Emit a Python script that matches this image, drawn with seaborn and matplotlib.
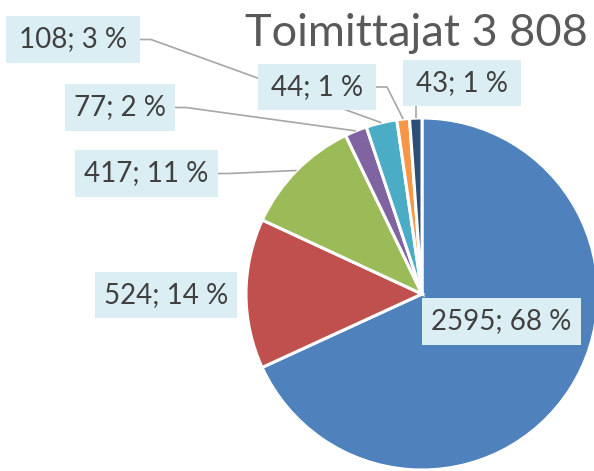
import matplotlib
matplotlib.use("Agg")
import matplotlib.pyplot as plt
import matplotlib.patches as mpatches
import numpy as np
import seaborn as sns

# --- Data ---
TITLE = "Toimittajat 3 808"
values = [2595, 524, 417, 77, 108, 44, 43]
percent_labels = ["68 %", "14 %", "11 %", "2 %", "3 %", "1 %", "1 %"]
colors = ["#4F81BD", "#C0504D", "#9BBB59", "#8064A2", "#4BACC6", "#F79646", "#2C4D75"]

# --- Layout (pixels, y measured from the top) ---
W, H = 594, 471
CENTER = (422, 294)
RADIUS = 176
# label boxes: x0, y0, x1, y1
boxes = [
    (422, 298, 581, 345),
    (95, 272, 237, 318),
    (75, 150, 218, 197),
    (65, 84, 175, 131),
    (6, 16, 140, 63),
    (258, 64, 376, 110),
    (403, 60, 521, 106),
]
# leader start side per slice: None, 'right' or 'bottom'
leader = [None, None, "right", "right", "right", "right", "bottom"]

BOX_COLOR = "#DAEEF3"
TEXT_COLOR = "#404040"
LINE_COLOR = "#A6A6A6"
FONT = ["Lato", "DejaVu Sans"]


def Y(y):
    return H - y


sns.set_theme(style="white")
plt.rcParams["font.family"] = FONT

fig = plt.figure(figsize=(W / 100, H / 100), dpi=100)
ax = fig.add_axes([0, 0, 1, 1])

wedges, _ = ax.pie(values, colors=colors, startangle=90, counterclock=False,
                   center=(CENTER[0], Y(CENTER[1])), radius=RADIUS,
                   wedgeprops=dict(edgecolor="white", linewidth=2.2))
for w in wedges:
    w.set_zorder(2)

ax.set_xlim(0, W)
ax.set_ylim(0, H)
ax.set_aspect("equal")
ax.axis("off")

for i, (v, p) in enumerate(zip(values, percent_labels)):
    x0, y0, x1, y1 = boxes[i]
    ax.add_patch(mpatches.Rectangle((x0, Y(y1)), x1 - x0, y1 - y0,
                                    facecolor=BOX_COLOR, edgecolor="none", zorder=4))
    ax.text((x0 + x1) / 2, Y((y0 + y1) / 2), f"{v}; {p}", ha="center", va="center",
            fontsize=20, color=TEXT_COLOR, zorder=5)

    if leader[i] is None:
        continue
    w = wedges[i]
    mid = np.deg2rad((w.theta1 + w.theta2) / 2)
    ax_, ay_ = w.center[0] + w.r * np.cos(mid), w.center[1] + w.r * np.sin(mid)
    if leader[i] == "right":
        sy = Y((y0 + y1) / 2)
        xs = [x1, x1 + 11, ax_]
        ys = [sy, sy, ay_]
    else:
        xs = [ax_, ax_]
        ys = [Y(y1), ay_]
    ax.plot(xs, ys, color=LINE_COLOR, linewidth=1.2, zorder=3, solid_capstyle="butt")

ax.text(588, Y(46), TITLE, ha="right", va="baseline", fontsize=32.5, color="#595959")

fig.savefig("out.png", dpi=100)
